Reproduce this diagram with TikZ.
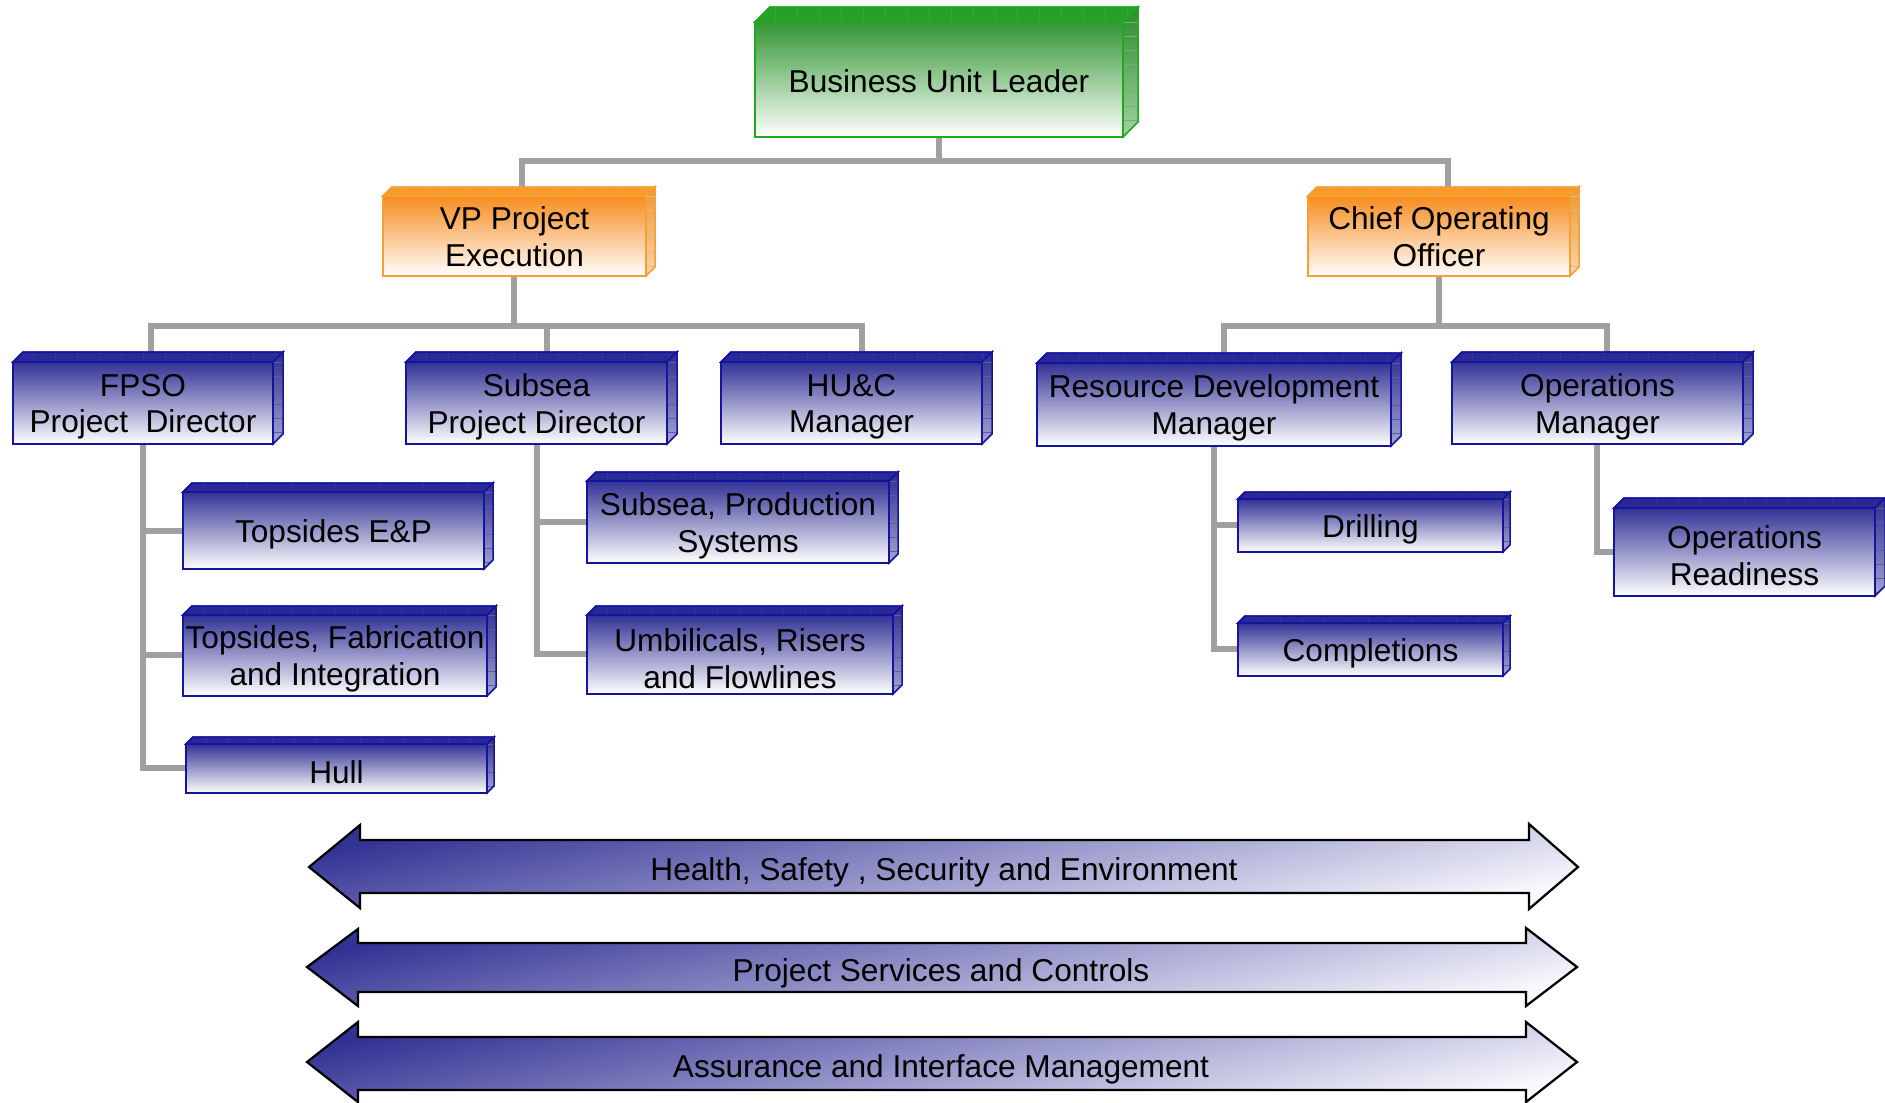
\documentclass[tikz,border=0pt]{standalone}
\usepackage{fontspec}
\setmainfont{Liberation Sans}
\definecolor{bbord}{RGB}{20,20,160}
\definecolor{btop}{RGB}{50,50,150}
\definecolor{bface}{RGB}{40,40,150}
\definecolor{bsideT}{RGB}{45,45,140}
\definecolor{bsideB}{RGB}{165,165,210}
\definecolor{bline}{RGB}{90,90,175}
\definecolor{btline}{RGB}{52,52,155}
\definecolor{obord}{RGB}{245,160,50}
\definecolor{otop}{RGB}{247,140,30}
\definecolor{oface}{RGB}{247,155,45}
\definecolor{osideT}{RGB}{235,150,50}
\definecolor{osideB}{RGB}{250,215,170}
\definecolor{oline}{RGB}{240,185,120}
\definecolor{otline}{RGB}{248,163,62}
\definecolor{gbord}{RGB}{30,170,30}
\definecolor{gtop}{RGB}{50,150,50}
\definecolor{gface}{RGB}{40,160,40}
\definecolor{gsideT}{RGB}{40,140,40}
\definecolor{gsideB}{RGB}{165,210,165}
\definecolor{gline}{RGB}{110,180,110}
\definecolor{gtline}{RGB}{55,168,55}
\definecolor{conncol}{RGB}{160,160,160}
\definecolor{arrdark}{RGB}{50,50,148}
\definecolor{arrmid}{RGB}{150,150,202}
\definecolor{arrlight}{RGB}{248,248,253}
\tikzset{
  front/.style={rectangle, inner sep=0pt, outer sep=0pt, line width=0.04cm},
  boxtext/.style={inner sep=0pt, align=center, font=\fontsize{18}{21}\selectfont, text=black},
  blue front/.style={draw=bbord, top color=btop, bottom color=white},
  blue text/.style={yshift=-0.075cm},
  blue topface/.style={fill=bface, draw=bbord, line width=0.03cm},
  blue sideface/.style={top color=bsideT, bottom color=bsideB},
  blue edge/.style={draw=bbord, line width=0.03cm},
  blue hatch/.style={draw=bline, line width=0.015cm},
  blue thatch/.style={draw=btline, line width=0.012cm},
  orange front/.style={draw=obord, top color=otop, bottom color=white},
  orange text/.style={yshift=-0.01cm},
  orange topface/.style={fill=oface, draw=obord, line width=0.03cm},
  orange sideface/.style={top color=osideT, bottom color=osideB},
  orange edge/.style={draw=obord, line width=0.03cm},
  orange hatch/.style={draw=oline, line width=0.015cm},
  orange thatch/.style={draw=otline, line width=0.012cm},
  green front/.style={draw=gbord, top color=gtop, bottom color=white},
  green text/.style={yshift=-0.03cm},
  green topface/.style={fill=gface, draw=gbord, line width=0.03cm},
  green sideface/.style={top color=gsideT, bottom color=gsideB},
  green edge/.style={draw=gbord, line width=0.03cm},
  green hatch/.style={draw=gline, line width=0.015cm},
  green thatch/.style={draw=gtline, line width=0.012cm},
  conn/.style={draw=conncol, line width=0.12cm},
  bandarrow/.style={draw=black, line width=0.045cm, line join=miter,
    top color=arrdark, bottom color=arrlight, middle color=arrmid, shading angle=12},
  bandtext/.style={font=\fontsize{18}{21}\selectfont, inner sep=0pt},
}
\newcommand{\orgbox}[8]{%
  \pgfmathsetmacro{\obw}{#4-#2}%
  \pgfmathsetmacro{\obh}{#5-#3}%
  \begin{scope}[shift={({#2},{#3})}]
    \filldraw[#7 topface] (0,0) -- (#6,-#6) -- ({\obw+#6},-#6) -- (\obw,0) -- cycle;
    \begin{scope}
      \clip (0,0) -- (#6,-#6) -- ({\obw+#6},-#6) -- (\obw,0) -- cycle;
      \foreach \xx in {20,42,...,420} \draw[#7 thatch] (\xx,0) -- (\xx,-#6);
    \end{scope}
    \draw[#7 edge] (0,0) -- (#6,-#6) -- ({\obw+#6},-#6) -- (\obw,0) -- cycle;
  \end{scope}
  \begin{scope}[shift={({#4},{#3})}]
    \shade[#7 sideface] (0,0) -- (#6,-#6) -- (#6,{\obh-#6}) -- (0,\obh) -- cycle;
    \begin{scope}
      \clip (0,0) -- (#6,-#6) -- (#6,{\obh-#6}) -- (0,\obh) -- cycle;
      \foreach \yy in {0,14,...,140} \draw[#7 hatch] (0,\yy) -- (#6,\yy);
    \end{scope}
    \draw[#7 edge] (0,0) -- (#6,-#6) -- (#6,{\obh-#6}) -- (0,\obh) -- cycle;
  \end{scope}
  \node[front, #7 front, minimum width=\obw*0.02cm, minimum height=\obh*0.02cm]
    (#1) at ({(#2+#4)/2},{(#3+#5)/2}) {};
  \node[boxtext, #7 text] (#1-label) at (#1.center) {#8};
}
\begin{document}
\begin{tikzpicture}[x=0.02cm, y=-0.02cm]
\useasboundingbox (0,0) rectangle (1885,1102);

% ---------- connectors ----------
\coordinate (topbus) at (939,161);
\coordinate (vpbus) at (514,326);
\coordinate (coobus) at (1439,326);

\draw[conn] (939,137) -- (topbus);
\draw[conn] (522,196) |- (topbus) -| (1448,196);
\draw[conn] (514,276) -- (vpbus);
\draw[conn] (151,362) |- (vpbus) -| (862,362);
\draw[conn] (547,362) -- (547,326);
\draw[conn] (1439,276) -- (coobus);
\draw[conn] (1224,363) |- (coobus) -| (1607,362);
% FPSO children
\draw[conn] (143,444) |- (186,768);
\draw[conn] (143,531) -- (183,531);
\draw[conn] (143,655) -- (183,655);
% Subsea children
\draw[conn] (537,444) |- (587,654);
\draw[conn] (537,522) -- (587,522);
% Resource development children
\draw[conn] (1214,446) |- (1238,649);
\draw[conn] (1214,525) -- (1238,525);
% Operations manager child
\draw[conn] (1597,444) |- (1614,552);

% ---------- boxes ----------
\orgbox{bul}{755}{22}{1123}{137}{15}{green}{Business Unit Leader}
\orgbox{vp}{383}{196}{646}{276}{9}{orange}{VP Project\\Execution}
\orgbox{coo}{1308}{196}{1570}{276}{9}{orange}{Chief Operating\\Officer}
\orgbox{fpso}{13}{362}{273}{444}{10}{blue}{FPSO\\Project\ \ Director}
\orgbox{subsea}{406}{362}{667}{444}{10}{blue}{Subsea\\Project Director}
\orgbox{huc}{721}{362}{982}{444}{10}{blue}{HU\&C\\Manager}
\orgbox{resdev}{1037}{363}{1391}{446}{10}{blue}{Resource Development\\Manager}
\orgbox{opsmgr}{1452}{362}{1743}{444}{10}{blue}{Operations\\Manager}
\orgbox{tep}{183}{492}{484}{569}{9}{blue}{Topsides E\&P}
\orgbox{tfi}{183}{615}{487}{696}{9}{blue}{Topsides, Fabrication\\and Integration}
\orgbox{hull}{186}{744}{487}{793}{7}{blue}{Hull}
\orgbox{sps}{587}{481}{889}{563}{9}{blue}{Subsea, Production\\Systems}
\orgbox{urf}{587}{615}{893}{694}{9}{blue}{Umbilicals, Risers\\and Flowlines}
\orgbox{drill}{1238}{499}{1503}{552}{7}{blue}{Drilling}
\orgbox{compl}{1238}{623}{1503}{676}{7}{blue}{Completions}
\orgbox{opsr}{1614}{508}{1875}{596}{10}{blue}{Operations\\Readiness}

% ---------- band arrows ----------
\draw[bandarrow] (309,867) -- (360,825) -- (360,840) -- (1529,840) -- (1529,824)
  -- (1578,867) -- (1529,909) -- (1529,893) -- (360,893) -- (360,908) -- cycle;
\node[bandtext] (hsse) at (944,872) {Health, Safety , Security and Environment};

\draw[bandarrow] (307,967) -- (358,929) -- (358,943) -- (1526,943) -- (1526,928)
  -- (1577,967) -- (1526,1006) -- (1526,992) -- (358,992) -- (358,1006) -- cycle;
\node[bandtext] (psc) at (941,973) {Project Services and Controls};

\draw[bandarrow] (307,1062) -- (358,1022) -- (358,1037) -- (1526,1037) -- (1526,1022)
  -- (1577,1062) -- (1526,1102) -- (1526,1090) -- (358,1090) -- (358,1102) -- cycle;
\node[bandtext] (aim) at (941,1069) {Assurance and Interface Management};
\end{tikzpicture}
\end{document}
